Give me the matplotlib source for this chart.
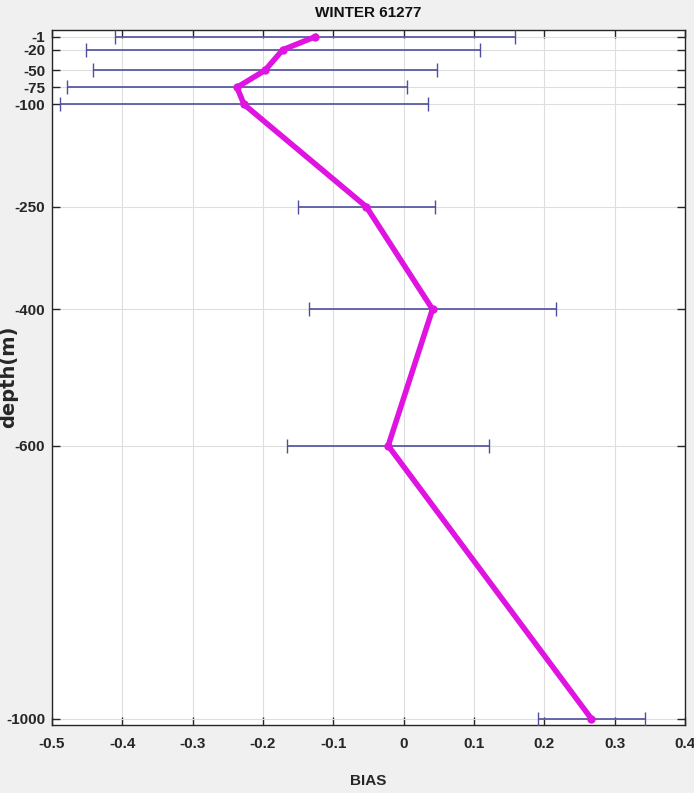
import matplotlib
matplotlib.use("Agg")
import matplotlib.pyplot as plt
from matplotlib import font_manager as fm

depth = [-1, -20, -50, -75, -100, -250, -400, -600, -1000]
bias = [-0.126, -0.172, -0.197, -0.237, -0.227, -0.053, 0.041, -0.022, 0.267]
err = [0.284, 0.280, 0.245, 0.242, 0.262, 0.097, 0.175, 0.144, 0.076]
ytick_labels = ["-1", "-20", "-50", "-75", "-100", "-250", "-400", "-600", "-1000"]
xticks = [-0.5, -0.4, -0.3, -0.2, -0.1, 0, 0.1, 0.2, 0.3, 0.4]
xtick_labels = ["-0.5", "-0.4", "-0.3", "-0.2", "-0.1", "0", "0.1", "0.2", "0.3", "0.4"]

names = {f.name for f in fm.fontManager.ttflist}
narrow = "Liberation Sans Narrow" if "Liberation Sans Narrow" in names else "Liberation Sans"

W, H = 694, 793
fig = plt.figure(figsize=(W / 100, H / 100), dpi=100, facecolor="#f0f0f0")
ax = fig.add_axes([52 / W, 1 - 725 / H, (685 - 52) / W, (725 - 30) / H])
ax.set_facecolor("white")

ax.errorbar(bias, depth, xerr=err, fmt="none", ecolor="#4f4f9e", elinewidth=1.2,
            capsize=5, capthick=1.0, zorder=3)
ax.plot(bias, depth, color="#e014e0", lw=4, marker="o", ms=5, zorder=4)

ax.set_xlim(-0.5, 0.4)
ax.set_ylim(-1009, 9)
ax.set_xticks(xticks)
ax.set_xticklabels(xtick_labels)
ax.set_yticks(depth)
ax.set_yticklabels(ytick_labels)
ax.grid(True, color="#dedede", lw=0.8, zorder=0)
ax.set_axisbelow(True)
ax.tick_params(direction="in", length=6, width=1, top=True, right=True, color="#262626",
               labelsize=11)
ax.tick_params(axis="x", pad=9)
ax.tick_params(axis="y", pad=5)
for lab in ax.get_xticklabels() + ax.get_yticklabels():
    lab.set_fontfamily(narrow)
    lab.set_fontweight("bold")
    lab.set_color("#262626")
for sp in ax.spines.values():
    sp.set_color("#262626")
    sp.set_linewidth(1)

fig.text(368 / W, 1 - 13 / H, "WINTER 61277", ha="center", va="center",
         fontsize=11, fontweight="bold", family=narrow, color="#111111")
fig.text(368 / W, 1 - 781 / H, "BIAS", ha="center", va="center",
         fontsize=11, fontweight="bold", family=narrow, color="#262626")
fig.text(9 / W, 1 - 377 / H, "depth(m)", ha="center", va="center", rotation=90,
         fontsize=14, fontweight="bold", family="DejaVu Sans", color="#262626")

fig.savefig("out.png", dpi=100, facecolor=fig.get_facecolor())
